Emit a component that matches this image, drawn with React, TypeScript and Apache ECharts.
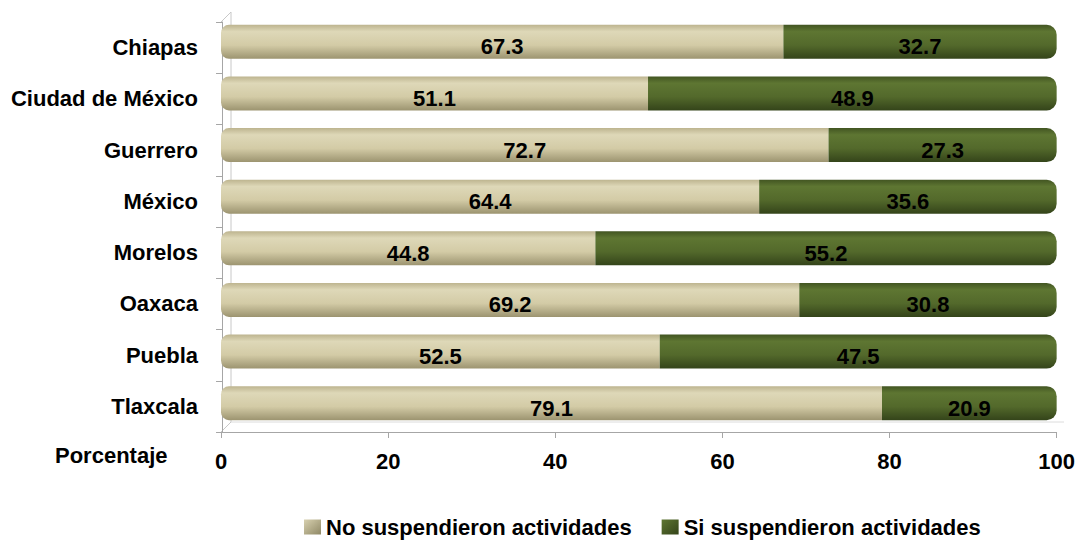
import React, { useEffect, useRef } from "react";
import * as echarts from "echarts";

const categories = ["Chiapas", "Ciudad de México", "Guerrero", "México", "Morelos", "Oaxaca", "Puebla", "Tlaxcala"];
const noSusp = [67.3, 51.1, 72.7, 64.4, 44.8, 69.2, 52.5, 79.1];
const siSusp = [32.7, 48.9, 27.3, 35.6, 55.2, 30.8, 47.5, 20.9];
const xTicks = [0, 20, 40, 60, 80, 100];

const FONT = "Liberation Sans, Arial, sans-serif";

const tan = new echarts.graphic.LinearGradient(0, 0, 0, 1, [
  { offset: 0, color: "#bdb48f" },
  { offset: 0.2, color: "#ded8b8" },
  { offset: 0.6, color: "#d3cba6" },
  { offset: 1, color: "#9c9470" },
]);
const green = new echarts.graphic.LinearGradient(0, 0, 0, 1, [
  { offset: 0, color: "#425522" },
  { offset: 0.2, color: "#5e7632" },
  { offset: 0.6, color: "#53692b" },
  { offset: 1, color: "#34441a" },
]);
const tanIcon = new echarts.graphic.LinearGradient(0, 0, 1, 1, [
  { offset: 0, color: "#d8d1b0" },
  { offset: 1, color: "#8f8865" },
]);
const greenIcon = new echarts.graphic.LinearGradient(0, 0, 1, 1, [
  { offset: 0, color: "#5e7632" },
  { offset: 1, color: "#34441a" },
]);

export default function App() {
  const ref = useRef<HTMLDivElement>(null);
  useEffect(() => {
    const chart = echarts.init(ref.current!, null, { renderer: "svg" });
    const labelStyle = {
      show: true,
      position: "inside" as const,
      offset: [0, 5],
      color: "#000",
      fontSize: 22,
      fontWeight: "bold" as const,
      fontFamily: FONT,
      formatter: (p: any) => p.value.toFixed(1),
    };
    const gray = "#a6a6a6";
    chart.setOption({
      animation: false,
      grid: [
        { left: 213, right: 14, top: 8, height: 413 },
        { left: 213, right: 14, top: 14, height: 410 },
      ],
      legend: {
        top: 503,
        left: 291,
        itemWidth: 17,
        itemHeight: 15,
        itemGap: 30,
        icon: "rect",
        textStyle: { fontSize: 22, fontWeight: "bold", color: "#000", fontFamily: FONT },
        data: [
          { name: "No suspendieron actividades", itemStyle: { color: tanIcon } },
          { name: "Si suspendieron actividades", itemStyle: { color: greenIcon } },
        ],
      },
      xAxis: [
        {
          type: "value",
          gridIndex: 0,
          min: 0,
          max: 100,
          interval: 20,
          offset: 3,
          splitLine: { show: false },
          axisLine: { show: true, lineStyle: { color: gray } },
          axisTick: { show: true, length: 6, lineStyle: { color: gray } },
          axisLabel: {
            margin: 18,
            fontSize: 22,
            fontWeight: "bold",
            color: "#000",
            fontFamily: FONT,
            formatter: (v: number) => (xTicks.includes(v) ? String(v) : ""),
          },
        },
        { type: "value", gridIndex: 1, min: 0, max: 100, show: false },
      ],
      yAxis: [
        {
          type: "category",
          gridIndex: 0,
          inverse: true,
          data: categories,
          axisLine: { show: false },
          axisTick: { show: false },
          axisLabel: { show: false },
        },
        {
          type: "category",
          gridIndex: 1,
          inverse: true,
          data: categories,
          axisLine: { show: true, lineStyle: { color: gray } },
          axisTick: { show: true, length: 6, lineStyle: { color: gray } },
          axisLabel: {
            margin: 24,
            fontSize: 22,
            fontWeight: "bold",
            color: "#000",
            fontFamily: FONT,
          },
        },
      ],
      graphic: [
        {
          type: "text",
          left: 47,
          top: 436,
          style: { text: "Porcentaje", fontSize: 22, fontWeight: "bold", fill: "#000", fontFamily: FONT },
        },
        { type: "line", z: 0, shape: { x1: 223, y1: 4, x2: 223, y2: 414 }, style: { stroke: "#c8c8c8", lineWidth: 1 } },
        { type: "line", z: 0, shape: { x1: 213, y1: 14, x2: 223, y2: 4 }, style: { stroke: "#c8c8c8", lineWidth: 1 } },
        { type: "line", z: 0, shape: { x1: 213, y1: 424, x2: 223, y2: 414 }, style: { stroke: "#c8c8c8", lineWidth: 1 } },
        { type: "line", z: 0, shape: { x1: 223, y1: 414, x2: 1056, y2: 414 }, style: { stroke: "#dcdcdc", lineWidth: 1 } },
      ],
      series: [
        {
          name: "No suspendieron actividades",
          type: "bar",
          stack: "t",
          barWidth: 34,
          xAxisIndex: 0,
          yAxisIndex: 0,
          data: noSusp,
          itemStyle: { color: tan, borderRadius: [8, 0, 0, 8] },
          label: labelStyle,
        },
        {
          name: "Si suspendieron actividades",
          type: "bar",
          stack: "t",
          barWidth: 34,
          xAxisIndex: 0,
          yAxisIndex: 0,
          data: siSusp,
          itemStyle: { color: green, borderRadius: [0, 10, 10, 0] },
          label: labelStyle,
        },
      ],
    });
    return () => chart.dispose();
  }, []);
  return <div ref={ref} style={{ width: 1070, height: 534 }} />;
}
